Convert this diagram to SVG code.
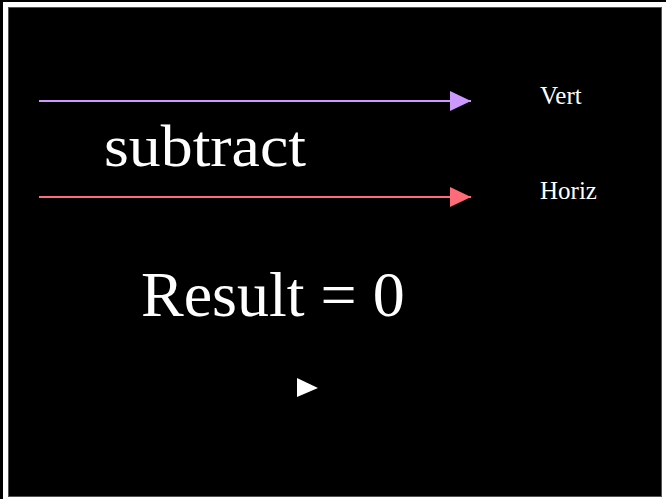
<svg xmlns="http://www.w3.org/2000/svg" width="666" height="499" viewBox="0 0 666 499">
<style>
.t{font-family:"Liberation Serif","Times New Roman",serif;fill:#fff}
</style>
<defs>
<marker id="ap" markerUnits="userSpaceOnUse" markerWidth="22" markerHeight="20" refX="21" refY="10" orient="auto"><path d="M0,0 L21,10 L0,20 Z" fill="#cc99ff"/></marker>
<marker id="ar" markerUnits="userSpaceOnUse" markerWidth="22" markerHeight="20" refX="21" refY="10" orient="auto"><path d="M0,0 L21,10 L0,20 Z" fill="#ff6b78"/></marker>
</defs>
<rect x="0" y="0" width="666" height="499" fill="#000"/>
<rect x="3" y="2" width="663" height="497" fill="#fff"/>
<rect x="8.5" y="7.5" width="653" height="489" fill="#000" stroke="#555"/>
<g id="connectors">
<line x1="39" y1="101" x2="471" y2="101" stroke="#cc99ff" stroke-width="2" marker-end="url(#ap)"/>
<line x1="39" y1="197" x2="471" y2="197" stroke="#ff6b78" stroke-width="2" marker-end="url(#ar)"/>
</g>
<g id="vert"><text class="t" x="540" y="104" font-size="25">Vert</text></g>
<g id="horiz"><text class="t" x="540" y="199" font-size="25">Horiz</text></g>
<g id="subtract"><text class="t" x="104" y="166" font-size="60" textLength="202" lengthAdjust="spacingAndGlyphs">subtract</text></g>
<g id="result"><text class="t" x="141" y="316" font-size="64">Result = 0</text></g>
<g id="play"><path d="M297,378 L318,388 L297,397 Z" fill="#fff"/></g>
</svg>
